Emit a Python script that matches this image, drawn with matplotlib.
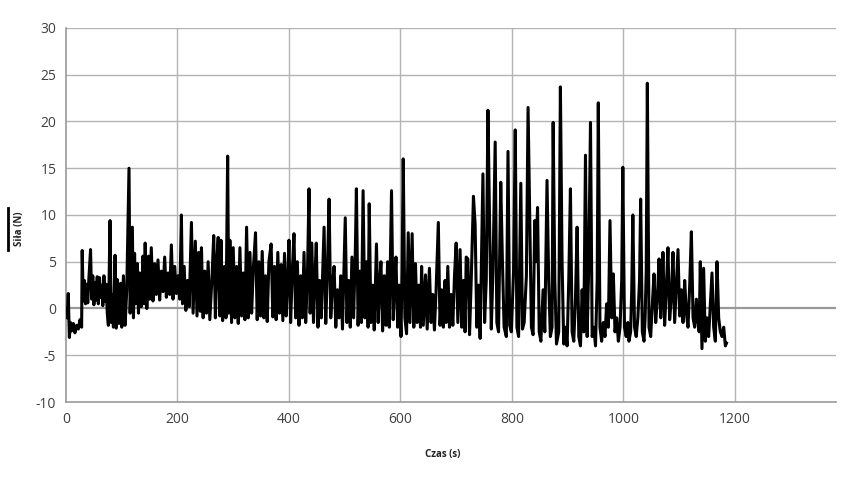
import matplotlib
matplotlib.use("Agg")
import matplotlib.pyplot as plt
from matplotlib.lines import Line2D

plt.rcParams['font.family'] = ['Open Sans', 'DejaVu Sans']
plt.rcParams['axes.unicode_minus'] = False

# force readings (time in s, force in N)
t_a = [0, 2, 4, 6, 8, 10, 13, 16, 19, 22, 25, 28]
f_a = [0, -1, 1.6, -3.1, -1.5, -2.4, -1.6, -2.6, -1.8, -2.2, -1.2, -2.0]

t_b = [29, 31, 33, 35, 37, 39, 41, 44, 46, 48, 50, 52, 54, 56, 58, 60,
       62, 64, 66, 68, 70, 72, 74]
f_b = [6.2, 0.8, 3.0, 0.5, 2.6, 0.6, 3.2, 6.3, 1.0, 3.5, 0.4, 2.8, 0.9, 3.4, 0.5, 3.3,
       1.2, 2.5, 0.3, 3.5, 0.8, 2.6, -0.5]

t_c = [76, 79, 81, 83, 85, 88, 90, 92, 95, 98, 100, 103, 106, 109, 113, 115,
       117, 119, 121, 123, 125, 128]
f_c = [-1.8, 9.4, -1.5, 1.5, -2.0, 5.7, -2.1, 3.1, -1.6, 2.7, -2.0, 3.5, -1.8, 2.0, 15.0, -0.5,
       4.0, 8.7, -1.0, 5.9, 0.5, 4.8]

t_d = [130, 132, 135, 138, 140, 142, 145, 148, 150, 153, 156, 159, 162, 165,
       168, 171, 174, 177, 180, 183, 186, 189, 192, 195, 198, 201, 204]
f_d = [-0.5, 3.8, 0.2, 5.6, 0.5, 7.0, 0.0, 5.6, 1.0, 6.5, 0.8, 4.8, 1.5, 5.2,
       0.9, 4.0, 1.8, 5.5, 1.2, 3.8, 1.5, 6.8, 1.0, 4.5, 1.6, 3.5, 1.0]

t_e = [207, 209, 212, 215, 218, 221, 225, 228, 232, 235, 238, 241, 243, 246, 249, 252, 255,
       258, 262, 265, 268, 271, 273, 276, 278, 281, 284, 287, 290, 292, 294, 297, 300]
f_e = [10.0, 0.5, 4.5, -0.2, 3.0, 0.2, 9.2, -0.5, 7.2, -0.8, 6.0, -0.3, 6.5, -1.0, 4.0, -0.5, 5.0,
       -1.2, 3.5, 7.8, -1.0, 5.5, 7.6, -0.8, 7.3, -1.3, 4.5, -1.0, 16.3, -0.5, 7.3, -1.5, 6.5]

t_f = [303, 306, 309, 312, 315, 318, 321, 324, 327, 330, 333, 336, 340, 343, 346, 349, 352,
       355, 358, 361, 364, 368, 371, 374, 377, 380, 383, 386, 389, 392, 395, 398, 400]
f_f = [-1.0, 4.5, -1.6, 6.5, -0.8, 3.8, -1.2, 8.7, -1.0, 6.0, -0.5, 4.2, 8.1, -1.2, 5.0, -0.8, 6.1,
       -1.0, 3.5, -1.4, 5.0, 6.9, -0.9, 4.5, -1.2, 6.0, -0.5, 4.7, -1.3, 5.9, -0.8, 3.5, 7.3]

t_g = [403, 406, 409, 412, 415, 418, 421, 424, 427, 430, 433, 436, 438, 441, 444, 447, 449, 452,
       455, 458, 461, 463, 466, 469, 472, 475, 478, 481, 484, 487, 490, 493, 496, 499, 501, 504,
       507, 510, 513, 516, 519, 521, 524, 527, 530, 533, 536, 539, 542, 544, 547, 550, 553, 557,
       560, 563, 565, 568, 571, 574, 577, 580, 584, 587, 590, 592, 595, 598, 601, 603, 605]
f_g = [-1.5, 4.0, 8.0, -1.0, 5.0, -1.8, 3.5, -1.0, 6.0, -1.5, 3.0, 12.8, -0.5, 7.0, -1.5, 4.0, 7.0, -2.0,
       3.0, -1.0, 5.0, 8.7, -1.6, 4.0, 11.7, -1.0, 2.5, 4.5, -2.0, 2.0, -1.0, 3.5, -2.2, 5.0, 9.7, -1.5,
       3.0, -2.0, 5.5, -1.0, 6.0, 12.8, -1.8, 4.0, -1.5, 12.6, -1.0, 5.0, -2.0, 11.2, -1.5, 2.5, -2.3, 6.9,
       -1.5, 3.0, 5.0, -2.4, 3.5, -1.8, 5.0, -2.0, 12.6, -1.2, 3.0, 5.5, -2.0, 2.5, -3.0, 4.0, 16.0]

t_h = [608, 611, 614, 617, 621, 624, 627, 630, 633, 636, 638, 641, 645, 648, 652, 655, 658, 661,
       664, 668, 671, 674, 677, 680, 682, 685, 688, 691, 694, 697, 700, 703, 707, 710, 713, 716,
       718, 721, 724, 727]
f_h = [-1.0, -2.7, 8.1, -1.5, 8.0, -2.0, 4.8, -1.5, 2.5, -2.0, 4.5, -1.8, 3.6, -2.2, 4.3, -1.5, 1.5, -2.3,
       2.0, 9.2, -1.8, 2.0, -2.0, 3.0, -1.5, 4.5, -2.0, 1.5, -1.8, 3.5, 7.0, -1.5, 6.3, -2.0, 3.0, -2.5,
       5.5, 5.3, -2.8, 3.0]

t_i = [731, 734, 737, 740, 743, 745, 748, 751, 754, 757, 760, 763, 766, 770, 773, 776,
       780, 783, 786, 790, 793, 796, 799, 803, 806, 809, 812, 816, 819, 822, 826, 829]
f_i = [12.0, 9.0, -2.0, 2.5, -3.2, 4.0, 14.4, -1.5, 3.0, 21.2, 9.0, -2.2, 4.0, 17.8, -1.5, -2.5,
       13.5, 5.0, -2.0, -3.0, 16.8, -1.8, -2.5, 4.0, 19.1, -2.0, -3.0, 13.4, -2.2, -1.5, 3.5, 21.5]

t_j = [832, 835, 838, 841, 843, 846, 849, 852, 856, 859, 863, 866, 869, 872, 874, 877, 880, 884,
       887, 890, 893, 896, 899, 902, 905, 908, 911, 914, 917, 920, 923, 926, 929, 932, 935, 938,
       941, 944, 947, 950, 953, 955, 958, 961, 964, 967, 970, 973, 976, 979, 982, 985, 988, 991,
       994, 997, 999]
f_j = [10.0, -2.0, -2.8, 9.4, 5.0, 10.8, -2.5, -3.5, 2.0, -2.5, 13.7, 3.0, -3.0, -2.0, 19.9, 3.0, -3.8, -2.5,
       23.7, 5.0, -3.8, -2.0, -4.0, 3.0, 12.8, -2.5, -3.5, 1.0, 8.7, -3.0, -4.0, 2.0, -2.5, 16.4, -3.0, 5.0,
       19.9, -3.0, -2.0, -4.0, 3.0, 22.0, -2.0, -3.5, -1.5, -3.0, 0.5, -2.0, 9.4, -1.0, 3.7, -2.5, -1.0, -3.5,
       -2.0, 3.0, 15.1]

t_k = [1002, 1005, 1008, 1010, 1013, 1015, 1017, 1020, 1023, 1026, 1029, 1031, 1034, 1037, 1039,
       1041, 1043, 1046, 1049, 1052, 1055, 1058, 1061, 1064, 1067, 1069, 1071, 1074, 1077, 1080,
       1083, 1086, 1089, 1092, 1095, 1098, 1101, 1104, 1107, 1110, 1113, 1116, 1119, 1122, 1125,
       1128, 1131, 1134, 1136, 1138, 1141, 1144, 1147, 1150, 1153, 1156, 1159, 1162, 1165, 1168,
       1171, 1174, 1177, 1180, 1183, 1185]
f_k = [-2.0, -3.0, -1.5, -3.5, -2.5, 2.0, 10.0, -2.0, -3.0, -1.0, 3.0, 11.7, -2.5, -3.5, -1.0,
       4.0, 24.1, -2.0, -3.0, 0.5, 3.7, -1.5, 1.0, 5.3, -1.0, 1.5, 6.0, -1.8, 2.0, 6.5,
       -1.2, 1.0, 6.0, -1.5, 2.5, 6.3, -0.8, 2.0, -1.5, 3.0, -0.5, -2.0, 2.5, 8.2, -1.0,
       -2.0, 1.0, -1.5, -2.5, 5.0, -4.3, 4.3, -3.5, -1.0, -3.0, 0.5, 3.8, -2.0, -3.5, 5.0,
       -1.0, -2.5, -3.0, -2.0, -4.0, -3.7]

time_s = t_a + t_b + t_c + t_d + t_e + t_f + t_g + t_h + t_i + t_j + t_k
force_n = f_a + f_b + f_c + f_d + f_e + f_f + f_g + f_h + f_i + f_j + f_k
assert len(time_s) == len(force_n), (len(time_s), len(force_n))

x_ticks = [0, 200, 400, 600, 800, 1000, 1200]
y_ticks = [-10, -5, 0, 5, 10, 15, 20, 25, 30]

fig = plt.figure(figsize=(8.53, 4.8), dpi=100)
ax = fig.add_axes([0.0774, 0.1625, 0.903, 0.7792])

grid_col = '#b3b3b3'
for x in x_ticks[1:]:
    ax.axvline(x, color=grid_col, lw=1, zorder=1)
for y in y_ticks[1:]:
    ax.axhline(y, color='#999999' if y == 0 else grid_col, lw=1.6 if y == 0 else 1, zorder=1)

ax.plot(time_s, force_n, color='black', lw=2.2, zorder=3)

ax.set_xlim(0, 1382)
ax.set_ylim(-10, 30)
ax.set_xticks(x_ticks)
ax.set_yticks(y_ticks)
ax.set_xticklabels([str(v) for v in x_ticks])
ax.set_yticklabels([str(v) for v in y_ticks])
ax.tick_params(length=0, labelsize=10, colors='#404040', pad=7)

for side in ['top', 'right']:
    ax.spines[side].set_visible(False)
for side in ['left', 'bottom']:
    ax.spines[side].set_color('#999999')
    ax.spines[side].set_linewidth(1.2)

fig.text(443 / 853, 1 - 455 / 480, 'Czas (s)', ha='center', va='center',
         fontsize=7, fontweight='bold', color='#222222')
fig.text(20 / 853, 1 - 229 / 480, 'Siła (N)', ha='center', va='center',
         rotation=90, fontsize=7, fontweight='bold', color='#222222')
fig.add_artist(Line2D([8 / 853, 8 / 853], [1 - 208 / 480, 1 - 250 / 480],
                      color='black', lw=2))

fig.savefig('out.png', dpi=100)
